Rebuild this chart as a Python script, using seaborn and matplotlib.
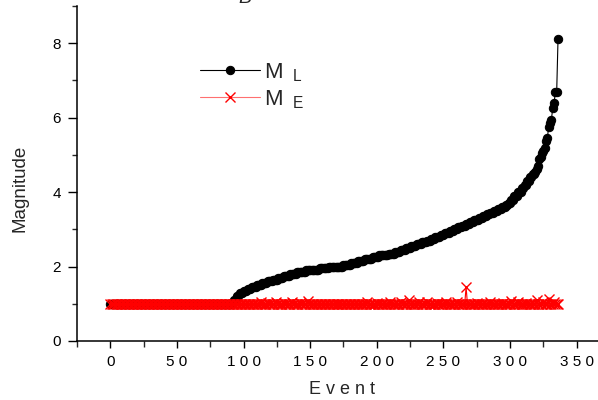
import numpy as np
import pandas as pd
import seaborn as sns
import matplotlib.pyplot as plt
from matplotlib.ticker import MultipleLocator

# sorted local magnitudes: value levels and how many events sit at each level
ml_levels = [1.00, 1.05, 1.10, 1.20, 1.30, 1.35, 1.40, 1.45, 1.50, 1.55, 1.60, 1.65,
             1.70, 1.75, 1.80, 1.85, 1.90, 1.95, 2.00, 2.05, 2.10, 2.15, 2.20, 2.25,
             2.30, 2.35, 2.40, 2.45, 2.50, 2.55, 2.60, 2.65, 2.70, 2.75, 2.80, 2.85,
             2.90, 2.95, 3.00, 3.05, 3.10, 3.15, 3.20, 3.25, 3.30, 3.35, 3.40, 3.45,
             3.50, 3.55, 3.60, 3.65, 3.70, 3.80, 3.90, 4.00, 4.10, 4.20, 4.30, 4.40,
             4.50, 4.55, 4.62, 4.69, 4.88, 4.95, 5.04, 5.10, 5.18, 5.38, 5.45, 5.76,
             5.85, 5.94, 6.25, 6.39, 6.68, 6.70, 8.12]
ml_counts = [92, 1, 2, 2, 3, 3, 3, 4, 4, 4, 4, 4,
             4, 5, 5, 7, 10, 7, 11, 6, 5, 5, 6, 5,
             7, 5, 4, 4, 4, 4, 4, 4, 3, 3, 4, 3,
             4, 3, 3, 3, 3, 3, 3, 4, 3, 3, 2, 3,
             3, 3, 3, 2, 2, 2, 3, 3, 2, 2, 2, 2,
             2, 1, 1, 1, 1, 1, 1, 1, 1, 1, 1, 1,
             1, 1, 1, 1, 1, 1, 1]

# estimated magnitudes: 1.0 except for these events
me_base = 1.0
me_events = [113, 118, 124, 130, 136, 142, 148, 193, 200, 210, 218, 224, 232, 238,
             245, 252, 260, 267, 275, 285, 295, 301, 306, 312, 320, 325, 329, 333]
me_values = [1.05, 1.03, 1.04, 1.03, 1.04, 1.03, 1.08, 1.05, 1.03, 1.04, 1.04, 1.09,
             1.04, 1.06, 1.03, 1.04, 1.06, 1.46, 1.03, 1.04, 1.03, 1.07, 1.04, 1.03,
             1.10, 1.05, 1.13, 1.04]

x_ticks = [0, 50, 100, 150, 200, 250, 300, 350]
x_tick_labels = [" ".join(str(t)) for t in x_ticks]
y_ticks = [0, 2, 4, 6, 8]

ml = np.repeat(ml_levels, ml_counts)
event = np.arange(len(ml))
me = np.full(len(ml), me_base)
me[me_events] = me_values
df = pd.DataFrame({"event": event, "ML": ml, "ME": me})

sns.set_theme(style="ticks")
plt.rcParams["font.family"] = ["Liberation Sans", "DejaVu Sans"]
plt.rcParams["mathtext.fontset"] = "custom"
plt.rcParams["mathtext.rm"] = "Liberation Sans"

fig = plt.figure(figsize=(5.98, 4.0), dpi=100)
ax = fig.add_axes([77 / 598, 59 / 400, 1 - 77 / 598, 335 / 400])

sns.lineplot(data=df, x="event", y="ML", ax=ax, color="black", linewidth=0.8,
             marker="o", markersize=6, markeredgecolor="black",
             label=r"$\mathrm{M}_{\ \ \mathrm{L}}$")
sns.lineplot(data=df, x="event", y="ME", ax=ax, color="red", linewidth=0.8,
             marker="x", markersize=7, markeredgewidth=1, markeredgecolor="red",
             label=r"$\mathrm{M}_{\ \ \mathrm{E}}$")

ax.set_xlim(-25, 366)
ax.set_ylim(0, 9)
ax.set_xticks(x_ticks)
ax.set_xticklabels(x_tick_labels)
ax.set_yticks(y_ticks)
ax.xaxis.set_minor_locator(MultipleLocator(25))
ax.yaxis.set_minor_locator(MultipleLocator(1))
ax.tick_params(axis="x", which="major", length=5, width=1, pad=5, labelsize=11, colors="black")
ax.tick_params(axis="x", which="minor", length=4, width=1)
ax.tick_params(axis="y", which="major", length=6.5, width=1, pad=5, labelsize=11, colors="black")
ax.tick_params(axis="y", which="minor", length=3.5, width=1)

sns.despine(ax=ax)
for side in ["left", "bottom"]:
    ax.spines[side].set_linewidth(1.1)
    ax.spines[side].set_color("black")

ax.set_xlabel("E v e n t", fontsize=13)
ax.xaxis.set_label_coords(0.509, -0.118)
ax.set_ylabel("Magnitude", fontsize=13.5)
ax.yaxis.set_label_coords(-0.093, 0.457)

leg = ax.legend(loc="upper left", bbox_to_anchor=(0.197, 0.895), frameon=False,
                fontsize=16, handlelength=2.7, handletextpad=0.2, labelspacing=0.2,
                numpoints=1)
leg.get_lines()[1].set_color("#ff7070")
leg.get_lines()[1].set_markeredgecolor("red")

fig.text(0.41, 1 - 3 / 400, "B", fontsize=14, style="italic", ha="center", va="baseline")

fig.savefig("out.png", dpi=100)
